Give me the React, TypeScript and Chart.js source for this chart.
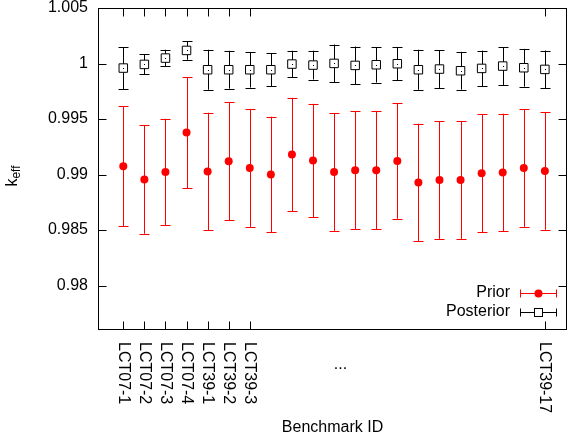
import React, { useEffect, useRef } from "react";
import { Chart, registerables } from "chart.js";

Chart.register(...registerables);

const benchmarks = [
  "LCT07-1", "LCT07-2", "LCT07-3", "LCT07-4",
  "LCT39-1", "LCT39-2", "LCT39-3", "LCT39-4", "LCT39-5", "LCT39-6", "LCT39-7",
  "LCT39-8", "LCT39-9", "LCT39-10", "LCT39-11", "LCT39-12", "LCT39-13", "LCT39-14",
  "LCT39-15", "LCT39-16", "LCT39-17",
];
const shownLabelIdx = [0, 1, 2, 3, 4, 5, 6, 20];
const ellipsisText = "...";

const priorValues = [
  0.99075, 0.98956, 0.99022, 0.99378, 0.99027, 0.9912, 0.99059, 0.99001, 0.99181, 0.99127,
  0.99023, 0.99039, 0.99039, 0.99122, 0.98928, 0.98951, 0.98951, 0.99012, 0.99018, 0.99059, 0.99032,
];
const priorErrors = [
  0.0054, 0.0049, 0.0048, 0.005, 0.0053, 0.0053, 0.0053, 0.0052, 0.0051, 0.0051,
  0.0053, 0.0053, 0.0053, 0.0052, 0.0053, 0.0053, 0.0053, 0.0053, 0.0053, 0.0053, 0.0053,
];
const posteriorValues = [
  0.99959, 0.99992, 1.00049, 1.00118, 0.99944, 0.99944, 0.99944, 0.99944, 0.99995, 0.99986,
  1.00001, 0.99983, 0.99989, 0.99998, 0.99944, 0.9995, 0.99935, 0.99956, 0.99977, 0.99962, 0.99947,
];
const posteriorErrors = [
  0.0019, 0.0009, 0.00075, 0.00084, 0.0018, 0.0017, 0.0016, 0.0015, 0.0012, 0.0013,
  0.0017, 0.0017, 0.0016, 0.0015, 0.0018, 0.0017, 0.0017, 0.0016, 0.0017, 0.0017, 0.0017,
];
const yTicks = [0.98, 0.985, 0.99, 0.995, 1, 1.005];
const yTickLabels = ["0.98", "0.985", "0.99", "0.995", "1", "1.005"];
const seriesNames = ["Prior", "Posterior"];
const xTitle = "Benchmark ID";
const yTitleMain = "k";
const yTitleSub = "eff";

const FONT = '"Liberation Sans", Arial, sans-serif';
const FS = 16;

export default function App() {
  const ref = useRef<HTMLCanvasElement | null>(null);

  useEffect(() => {
    const canvas = ref.current;
    if (!canvas) return;

    const errorErrs = [priorErrors, posteriorErrors];
    const errorVals = [priorValues, posteriorValues];
    const colors = ["#ff0000", "#000000"];

    const gnuplotPlugin = {
      id: "gnuplotStyle",
      beforeDatasetsDraw(chart: any) {
        const ctx = chart.ctx;
        const xs = chart.scales.x;
        const ys = chart.scales.y;
        ctx.save();
        ctx.lineWidth = 1;
        for (let s = 0; s < 2; s++) {
          ctx.strokeStyle = colors[s];
          ctx.beginPath();
          errorVals[s].forEach((v, i) => {
            const px = Math.round(xs.getPixelForValue(i + 1)) + 0.5;
            const top = ys.getPixelForValue(v + errorErrs[s][i]);
            const bot = ys.getPixelForValue(v - errorErrs[s][i]);
            ctx.moveTo(px, top);
            ctx.lineTo(px, bot);
            ctx.moveTo(px - 5, Math.round(top) + 0.5);
            ctx.lineTo(px + 5, Math.round(top) + 0.5);
            ctx.moveTo(px - 5, Math.round(bot) + 0.5);
            ctx.lineTo(px + 5, Math.round(bot) + 0.5);
          });
          ctx.stroke();
        }
        ctx.restore();
      },
      afterDraw(chart: any) {
        const ctx = chart.ctx;
        const xs = chart.scales.x;
        const ys = chart.scales.y;
        const a = chart.chartArea;
        ctx.save();
        // center dots in posterior squares
        ctx.fillStyle = "#000";
        posteriorValues.forEach((v, i) => {
          const px = Math.round(xs.getPixelForValue(i + 1));
          const py = Math.round(ys.getPixelForValue(v));
          ctx.fillRect(px, py, 1, 1);
        });
        // border
        ctx.strokeStyle = "#000";
        ctx.lineWidth = 1;
        const L = Math.round(a.left) + 0.5;
        const R = Math.round(a.right) - 0.5;
        const T = Math.round(a.top) + 0.5;
        const B = Math.round(a.bottom) - 0.5;
        ctx.strokeRect(L, T, R - L, B - T);
        ctx.beginPath();
        yTicks.forEach((v) => {
          const py = Math.round(ys.getPixelForValue(v)) + 0.5;
          ctx.moveTo(L, py);
          ctx.lineTo(L + 8, py);
          ctx.moveTo(R, py);
          ctx.lineTo(R - 8, py);
        });
        shownLabelIdx.forEach((i) => {
          const px = Math.round(xs.getPixelForValue(i + 1)) + 0.5;
          ctx.moveTo(px, T);
          ctx.lineTo(px, T + 8);
          ctx.moveTo(px, B);
          ctx.lineTo(px, B - 8);
        });
        ctx.stroke();

        // x tick labels rotated clockwise
        ctx.fillStyle = "#000";
        ctx.font = FS + "px " + FONT;
        shownLabelIdx.forEach((i) => {
          const px = xs.getPixelForValue(i + 1);
          ctx.save();
          ctx.translate(px, a.bottom + 12);
          ctx.rotate(Math.PI / 2);
          ctx.textAlign = "left";
          ctx.textBaseline = "middle";
          ctx.fillText(benchmarks[i], 0, 0);
          ctx.restore();
        });
        ctx.textAlign = "center";
        ctx.textBaseline = "middle";
        ctx.fillText(ellipsisText, xs.getPixelForValue(11.3), a.bottom + 35);

        // x title
        ctx.fillText(xTitle, (a.left + a.right) / 2, 428);

        // y title with subscript
        ctx.save();
        ctx.translate(17, 176);
        ctx.rotate(-Math.PI / 2);
        ctx.textBaseline = "alphabetic";
        ctx.textAlign = "left";
        ctx.font = FS + "px " + FONT;
        const wk = ctx.measureText(yTitleMain).width;
        ctx.font = "12px " + FONT;
        const we = ctx.measureText(yTitleSub).width;
        const start = -(wk + we) / 2;
        ctx.font = FS + "px " + FONT;
        ctx.fillText(yTitleMain, start, 0);
        ctx.font = "12px " + FONT;
        ctx.fillText(yTitleSub, start + wk, 3);
        ctx.restore();

        // legend
        const rows = [293, 312];
        ctx.font = FS + "px " + FONT;
        ctx.textAlign = "right";
        ctx.textBaseline = "middle";
        for (let s = 0; s < 2; s++) {
          const y = rows[s];
          const yl = Math.round(y) + 0.5;
          ctx.fillStyle = "#000";
          ctx.fillText(seriesNames[s], 510, y);
          ctx.strokeStyle = colors[s];
          ctx.beginPath();
          ctx.moveTo(520, yl);
          ctx.lineTo(557, yl);
          ctx.moveTo(520.5, yl - 4);
          ctx.lineTo(520.5, yl + 4);
          ctx.moveTo(556.5, yl - 4);
          ctx.lineTo(556.5, yl + 4);
          ctx.stroke();
          const mx = 538.5;
          if (s === 0) {
            ctx.fillStyle = "#ff0000";
            ctx.beginPath();
            ctx.arc(mx, yl, 4, 0, Math.PI * 2);
            ctx.fill();
          } else {
            ctx.fillStyle = "#fff";
            ctx.fillRect(mx - 4, yl - 4, 8, 8);
            ctx.strokeStyle = "#000";
            ctx.strokeRect(mx - 4, yl - 4, 8, 8);
          }
        }
        ctx.restore();
      },
    };

    const chart = new Chart(canvas, {
      type: "scatter",
      data: {
        datasets: [
          {
            label: seriesNames[0],
            data: priorValues.map((v, i) => ({ x: i + 1, y: v })),
            pointStyle: "circle",
            pointRadius: 4,
            pointBackgroundColor: "#ff0000",
            pointBorderColor: "#ff0000",
            pointBorderWidth: 0,
            showLine: false,
          },
          {
            label: seriesNames[1],
            data: posteriorValues.map((v, i) => ({ x: i + 1, y: v })),
            pointStyle: "rect",
            pointRadius: 6,
            pointBackgroundColor: "#ffffff",
            pointBorderColor: "#000000",
            pointBorderWidth: 1,
            showLine: false,
          },
        ],
      },
      options: {
        animation: false,
        responsive: false,
        devicePixelRatio: 1,
        events: [],
        layout: { padding: { top: 8, right: 1, left: 0, bottom: 0 } },
        plugins: {
          legend: { display: false },
          tooltip: { enabled: false },
        },
        scales: {
          x: {
            type: "linear",
            min: -0.2,
            max: 22.05,
            grid: { display: false, drawTicks: false },
            border: { display: false },
            ticks: { display: false },
            afterFit: (s: any) => {
              s.height = 113;
            },
          },
          y: {
            type: "linear",
            min: 0.976,
            max: 1.005,
            grid: { display: false, drawTicks: false },
            border: { display: false },
            afterBuildTicks: (s: any) => {
              s.ticks = yTicks.map((v) => ({ value: v }));
            },
            ticks: {
              padding: 10,
              color: "#000",
              font: { family: FONT, size: FS },
              callback: (v: any) => {
                const idx = yTicks.indexOf(Number(v));
                return idx >= 0 ? yTickLabels[idx] : "";
              },
            },
            afterFit: (s: any) => {
              s.width = 98;
              s.paddingTop = 0;
              s.paddingBottom = 0;
            },
          },
        },
      },
      plugins: [gnuplotPlugin],
    });

    return () => chart.destroy();
  }, []);

  return (
    <div style={{ position: "absolute", left: 0, top: 0, width: 574, height: 443, background: "#fff" }}>
      <canvas ref={ref} width={574} height={443} />
    </div>
  );
}
